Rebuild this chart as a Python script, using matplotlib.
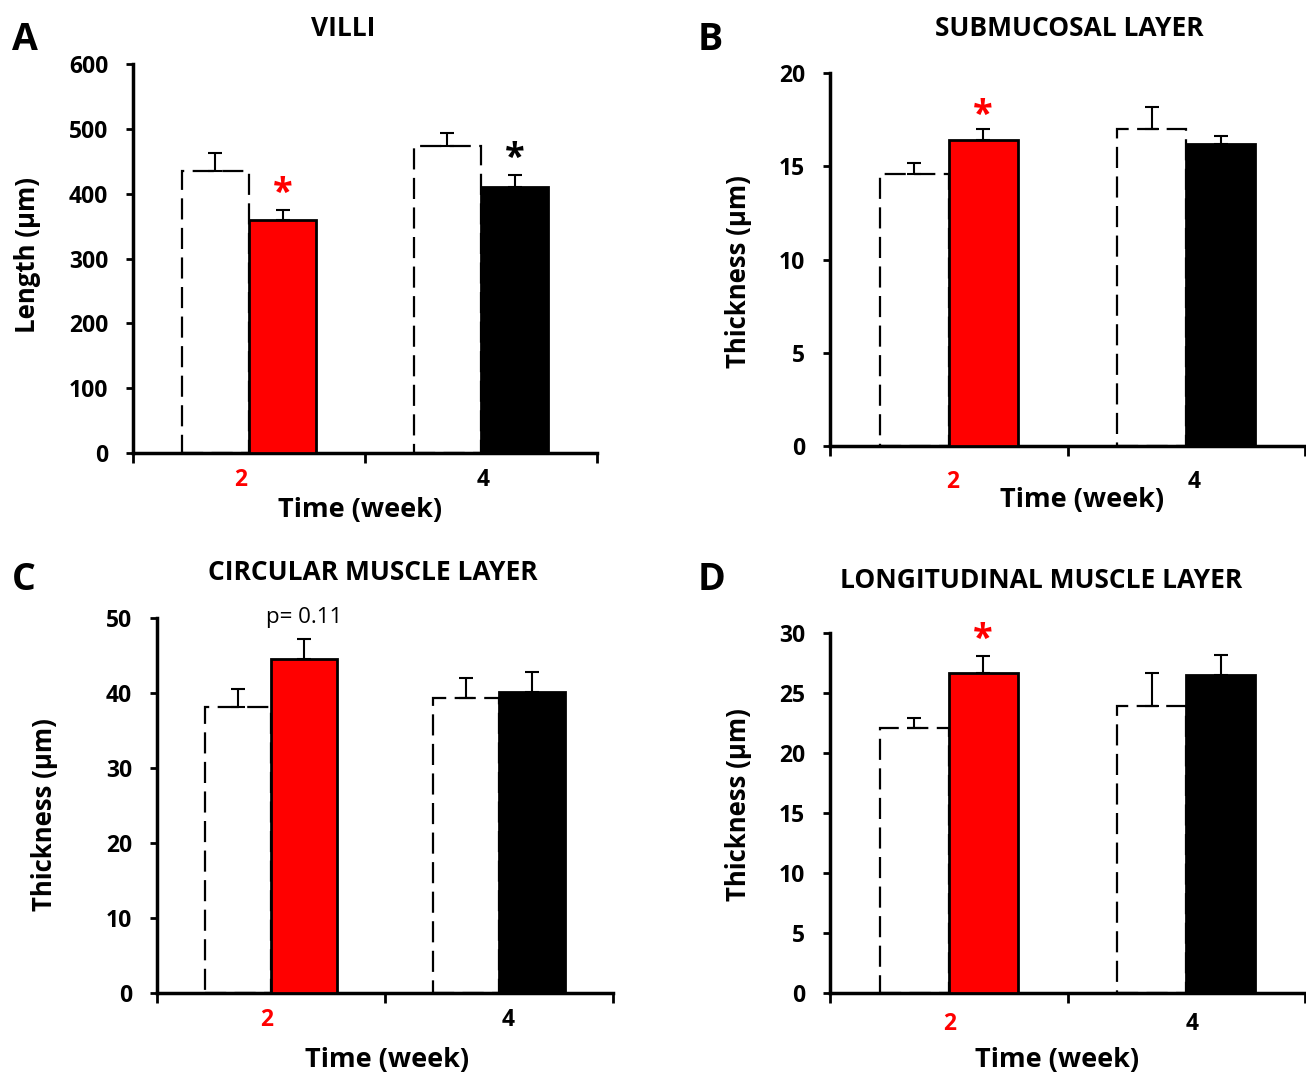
import numpy as np
import matplotlib
matplotlib.use("Agg")
import matplotlib.pyplot as plt

plt.rcParams['font.family'] = ['Open Sans', 'DejaVu Sans']
plt.rcParams['font.weight'] = 'bold'

W, H = 1306, 1076

weeks = ['2', '4']
week_colors = ['red', 'black']

villi_ctrl = [435, 474]
villi_ctrl_err = [28, 20]
villi_trt = [359, 410]
villi_trt_err = [16, 19]

sub_ctrl = [14.6, 17.0]
sub_ctrl_err = [0.6, 1.2]
sub_trt = [16.4, 16.2]
sub_trt_err = [0.6, 0.4]

circ_ctrl = [38.2, 39.3]
circ_ctrl_err = [2.4, 2.7]
circ_trt = [44.5, 40.2]
circ_trt_err = [2.7, 2.6]

long_ctrl = [22.1, 23.9]
long_ctrl_err = [0.8, 2.8]
long_trt = [26.7, 26.5]
long_trt_err = [1.4, 1.7]

# panel settings: letter, title, ylabel, ylim, yticks, data, marks, pixel boxes
panels = [
    dict(letter='A', title='VILLI', ylabel='Length (µm)', ymax=600, ystep=100,
         ctrl=villi_ctrl, ctrl_err=villi_ctrl_err, trt=villi_trt, trt_err=villi_trt_err,
         marks=[(0, '*', 'red', 400), (1, '*', 'black', 454)],
         box=(133, 597, 64, 453), pad=11, lab_dx=(-0.035, 0.01),
         letter_xy=(12, 40), title_xy=(343, 28), xlabel_xy=(360, 510), ylabel_xy=(28, 255)),
    dict(letter='B', title='SUBMUCOSAL LAYER', ylabel='Thickness (µm)', ymax=20, ystep=5,
         ctrl=sub_ctrl, ctrl_err=sub_ctrl_err, trt=sub_trt, trt_err=sub_trt_err,
         marks=[(0, '*', 'red', 17.7)],
         box=(830, 1305, 73, 446), pad=17, lab_dx=(0.017, 0.033),
         letter_xy=(698, 40), title_xy=(1069, 28), xlabel_xy=(1082, 500), ylabel_xy=(738, 272)),
    dict(letter='C', title='CIRCULAR MUSCLE LAYER', ylabel='Thickness (µm)', ymax=50, ystep=10,
         ctrl=circ_ctrl, ctrl_err=circ_ctrl_err, trt=circ_trt, trt_err=circ_trt_err,
         marks=[(0, 'p= 0.11', 'black', 50)],
         box=(157, 613, 618, 993), pad=11, lab_dx=(-0.02, 0.04),
         letter_xy=(12, 580), title_xy=(373, 573), xlabel_xy=(387, 1060), ylabel_xy=(45, 815)),
    dict(letter='D', title='LONGITUDINAL MUSCLE LAYER', ylabel='Thickness (µm)', ymax=30, ystep=5,
         ctrl=long_ctrl, ctrl_err=long_ctrl_err, trt=long_trt, trt_err=long_trt_err,
         marks=[(0, '*', 'red', 29.4)],
         box=(830, 1305, 633, 993), pad=14, lab_dx=(0.005, 0.025),
         letter_xy=(698, 580), title_xy=(1041, 580), xlabel_xy=(1057, 1060), ylabel_xy=(738, 805)),
]

fig = plt.figure(figsize=(W / 100, H / 100), dpi=100)

def fx(x):
    return x / W

def fy(y):
    return 1 - y / H

w = 0.29
centers = np.array([0.5, 1.5])

for p in panels:
    l, r, t, b = p['box']
    ax = fig.add_axes([fx(l), fy(b), (r - l) / W, (b - t) / H])

    # control bars (white, dashed outline)
    ax.bar(centers - w, p['ctrl'], width=w, align='edge', color='white',
           edgecolor='black', linewidth=1.6, linestyle=(0, (9.5, 3.8)), zorder=2)
    ax.errorbar(centers - w / 2, p['ctrl'], yerr=[[0, 0], p['ctrl_err']], fmt='none',
                ecolor='black', elinewidth=1.5, capsize=5, capthick=1.5, zorder=3)
    # treated bars
    ax.bar(centers, p['trt'], width=w, align='edge', color=week_colors,
           edgecolor='black', linewidth=2, zorder=4)
    ax.errorbar(centers + w / 2, p['trt'], yerr=[[0, 0], p['trt_err']], fmt='none',
                ecolor='black', elinewidth=1.5, capsize=5, capthick=1.5, zorder=3)

    for i, txt, col, yv in p['marks']:
        if txt == '*':
            ax.text(centers[i] + w / 2, yv, txt, color=col, ha='center', va='center',
                    fontsize=26, fontweight='bold', clip_on=False)
        else:
            ax.text(centers[i] + w / 2, yv, txt, color=col, ha='center', va='center',
                    fontsize=16, fontweight='normal', clip_on=False)

    ax.set_xlim(0, 2)
    ax.set_ylim(0, p['ymax'])
    ax.set_yticks(np.arange(0, p['ymax'] + p['ystep'] / 2, p['ystep']))
    ax.set_xticks([0, 1, 2])
    ax.set_xticklabels([])
    ax.set_xticks(centers + np.array(p['lab_dx']), minor=True)
    ax.set_xticklabels(weeks, minor=True)
    for lab, c in zip(ax.get_xticklabels(minor=True), week_colors):
        lab.set_color(c)
    ax.tick_params(axis='x', which='minor', length=0, pad=p['pad'], labelsize=16.5)
    ax.tick_params(axis='x', which='major', length=7, width=2, direction='out')
    ax.tick_params(axis='y', length=5, width=2, direction='out', pad=13, labelsize=16.5)
    for s in ['top', 'right']:
        ax.spines[s].set_visible(False)
    for s in ['left', 'bottom']:
        ax.spines[s].set_linewidth(2.5)
    ax.patch.set_alpha(0)

    fig.text(fx(p['letter_xy'][0]), fy(p['letter_xy'][1]), p['letter'],
             fontsize=27, fontweight='bold', ha='left', va='center')
    fig.text(fx(p['title_xy'][0]), fy(p['title_xy'][1]), p['title'],
             fontsize=19, fontweight='bold', ha='center', va='center')
    fig.text(fx(p['xlabel_xy'][0]), fy(p['xlabel_xy'][1]), 'Time (week)',
             fontsize=19.5, fontweight='bold', ha='center', va='center')
    fig.text(fx(p['ylabel_xy'][0]), fy(p['ylabel_xy'][1]), p['ylabel'],
             fontsize=18.5, fontweight='bold', ha='center', va='center', rotation=90)

fig.savefig('out.png', dpi=100)
